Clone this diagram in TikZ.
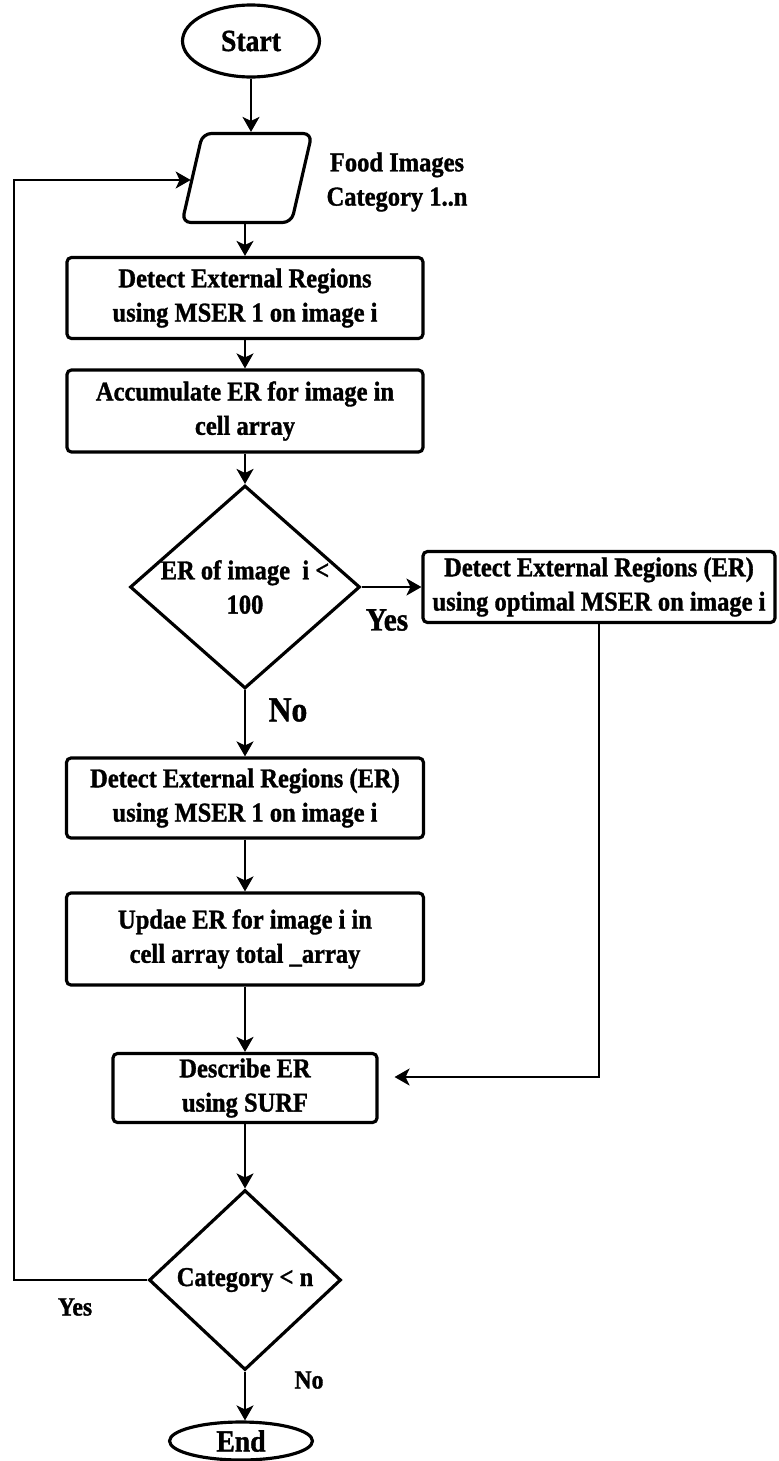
\documentclass[tikz,border=0pt]{standalone}
\usepackage{fontspec}
\setmainfont{Liberation Serif}[FakeStretch=0.9, BoldFeatures={FakeBold=1.2}]
\usetikzlibrary{shapes.geometric,arrows.meta}

\begin{document}
\begin{tikzpicture}[x=0.02cm, y=-0.02cm,
    every node/.style={inner sep=0pt, align=center, font=\bfseries\fontsize{15.5}{19.5}\selectfont},
    process/.style={draw, line width=1.8pt, rounded corners=2.5pt},
    decision/.style={draw, diamond, line width=1.8pt},
    terminal/.style={draw, ellipse, line width=1.8pt},
    io/.style={draw, trapezium, trapezium left angle=77, trapezium right angle=103, trapezium stretches=true, inner sep=3pt, line width=1.8pt, rounded corners=5pt},
    line/.style={line width=1.1pt, -{Stealth[length=0.3cm, width=0.34cm, inset=0.08cm]}}]
    \useasboundingbox (0,0) rectangle (778,1461);
    % shapes
    \node [terminal, minimum width=2.74cm, minimum height=1.44cm, font=\bfseries\fontsize{17.5}{20}\selectfont] (start) at (251,41) {Start};
    \node [io, minimum width=2.6cm, minimum height=1.78cm] (img) at (247,178) {};
    \node (imglbl) at (397,182) {Food Images\\Category 1..n};
    \node [process, minimum width=7.12cm, minimum height=1.62cm] (mser) at (245,298) {Detect External Regions\\using MSER 1 on image i};
    \node [process, minimum width=7.12cm, minimum height=1.64cm] (accum) at (245,411) {Accumulate ER for image in\\cell array};
    \node [decision, aspect=1.13, minimum width=4.6cm, minimum height=4.06cm] (few) at (245,587) {ER of image\ \ i <\\100};
    \node [process, minimum width=7.04cm, minimum height=1.42cm] (optimal) at (599,587) {Detect External Regions (ER)\\using optimal MSER on image i};
    \node [process, minimum width=7.14cm, minimum height=1.6cm] (mserb) at (245,798) {Detect External Regions (ER)\\using MSER 1 on image i};
    \node [process, minimum width=7.14cm, minimum height=1.84cm] (update) at (245,939) {Updae ER for image i in\\cell array total \_array};
    \node [process, minimum width=5.28cm, minimum height=1.38cm] (surf) at (245,1088) {Describe ER\\using SURF};
    \node [decision, aspect=1.07, minimum width=3.84cm, minimum height=3.6cm] (more) at (245,1280) {Category < n};
    \node [terminal, minimum width=2.86cm, minimum height=0.76cm, font=\bfseries\fontsize{17.5}{20}\selectfont] (end) at (241,1441) {End};
    % labels
    \node [font=\bfseries\fontsize{18.5}{21}\selectfont] (yes1) at (387,620) {Yes};
    \node [font=\bfseries\fontsize{20}{23}\selectfont] (no1) at (288,710) {No};
    \node [font=\bfseries\fontsize{15}{17}\selectfont] (yes2) at (75,1307) {Yes};
    \node [font=\bfseries\fontsize{15}{17}\selectfont] (no2) at (309,1380) {No};
    % connectors
    \coordinate (back) at (14,180);
    \draw [line] (start.south) -- (start.south |- img.north);
    \draw [line] (mser.north |- img.south) -- (mser.north);
    \draw [line] (mser.south) -- (accum.north);
    \draw [line] (accum.south) -- (few.north);
    \draw [line] (few.east) -- (optimal.west);
    \draw [line] (few.south) -- (mserb.north);
    \draw [line] (mserb.south) -- (update.north);
    \draw [line] (update.south) -- (surf.north);
    \draw [line, shorten >=0.32cm] (optimal.south) |- ([yshift=0.22cm]surf.east);
    \draw [line] (surf.south) -- (more.north);
    \draw [line] (more.south) -- (more.south |- end.north);
    \draw [line] (more.west) -| (back) -- (back -| img.left side);
\end{tikzpicture}
\end{document}
